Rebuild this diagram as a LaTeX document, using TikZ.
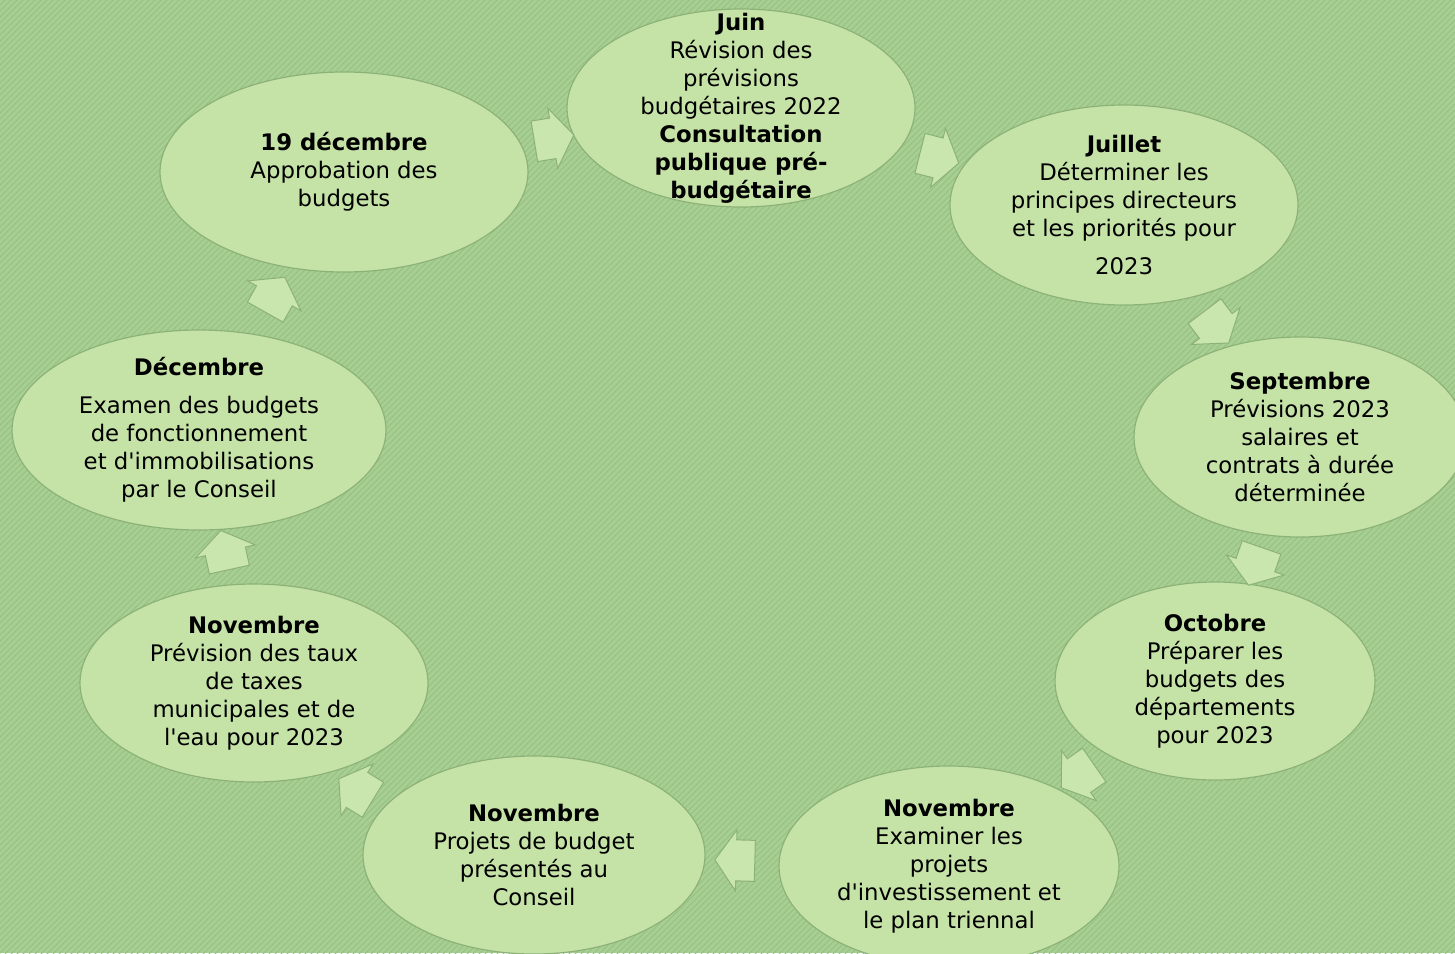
\documentclass[tikz,border=0pt]{standalone}
\usepackage{fontspec}
\setmainfont{DejaVu Sans}
\usetikzlibrary{shapes.geometric,shapes.arrows,patterns}
\definecolor{bgG}{HTML}{A8CF93}
\definecolor{bgD}{HTML}{96C081}
\definecolor{ellG}{HTML}{C6E3A7}
\definecolor{ellRim}{HTML}{F6FDEE}
\definecolor{ellLine}{HTML}{8DB279}
\definecolor{arrG}{HTML}{C8E6AD}
\pgfdeclareradialshading{bubbleshade}{\pgfpoint{0bp}{0bp}}{color(0bp)=(ellG); color(42bp)=(ellG); color(48bp)=(ellRim); color(50bp)=(ellG!70!ellLine); color(100bp)=(ellG!70!ellLine)}

\begin{document}
\begin{tikzpicture}[x=0.5pt,y=-0.5pt]
  \tikzset{bubble/.style={ellipse, inner sep=0pt, shading=bubbleshade, draw=ellLine, line width=0.6pt},
    txt/.style={align=center, font=\fontsize{11.4}{14}\selectfont},
    blockarr/.style={single arrow, draw=ellLine, fill=arrG, line width=0.5pt, inner xsep=0pt, inner ysep=10pt,
      minimum height=20pt, single arrow head extend=5pt, single arrow tip angle=110, single arrow head indent=0pt,
      sloped, allow upside down}}
  \useasboundingbox (0,0) rectangle (1455,953);
  \clip (0,0) rectangle (1455,953);
  \fill[bgG] (0,0) rectangle (1455,953);
  \fill[pattern=north east lines, pattern color=bgD] (0,0) rectangle (1455,953);

  \node[bubble, minimum width=174pt, minimum height=99pt] (juin) at (741,108) {};
  \node[bubble, minimum width=174pt, minimum height=100pt] (juillet) at (1124,205) {};
  \node[bubble, minimum width=166pt, minimum height=100pt] (sept) at (1300,437) {};
  \node[bubble, minimum width=160pt, minimum height=99pt] (oct) at (1215,681) {};
  \node[bubble, minimum width=170pt, minimum height=100pt] (novr) at (949,866) {};
  \node[bubble, minimum width=171pt, minimum height=99pt] (novm) at (534,855) {};
  \node[bubble, minimum width=174pt, minimum height=99pt] (novl) at (254,683) {};
  \node[bubble, minimum width=187pt, minimum height=100pt] (dec) at (199,430) {};
  \node[bubble, minimum width=184pt, minimum height=100pt] (dec19) at (344,172) {};

  \node[txt] (juintxt) at (juin) {\textbf{Juin}\\Révision des\\prévisions\\budgétaires 2022\\\textbf{Consultation}\\\textbf{publique pré-}\\\textbf{budgétaire}};
  \node[txt] (juillettxt) at (juillet) {\textbf{Juillet}\\Déterminer les\\principes directeurs\\et les priorités pour\\[5pt]2023};
  \node[txt] (septtxt) at (sept) {\textbf{Septembre}\\Prévisions 2023\\salaires et\\contrats à durée\\déterminée};
  \node[txt] (octtxt) at (oct) {\textbf{Octobre}\\Préparer les\\budgets des\\départements\\pour 2023};
  \node[txt] (novrtxt) at (novr) {\textbf{Novembre}\\Examiner les\\projets\\d\textquotesingle investissement et\\le plan triennal};
  \node[txt] (novmtxt) at (novm) {\textbf{Novembre}\\Projets de budget\\présentés au\\Conseil};
  \node[txt] (novltxt) at (novl) {\textbf{Novembre}\\Prévision des taux\\de taxes\\municipales et de\\l\textquotesingle eau pour 2023};
  \node[txt] (dectxt) at (dec) {\textbf{Décembre}\\[5pt]Examen des budgets\\de fonctionnement\\et d\textquotesingle immobilisations\\par le Conseil};
  \node[txt] (dec19txt) at (dec19) {\textbf{19 décembre}\\Approbation des\\budgets};

  \path (dec19) -- node[blockarr] (a1) {} (juin);
  \path (juin) -- node[blockarr] (a2) {} (juillet);
  \path (juillet) -- node[blockarr] (a3) {} (sept);
  \path (sept) -- node[blockarr] (a4) {} (oct);
  \path (oct) -- node[blockarr] (a5) {} (novr);
  \path (novr) -- node[blockarr] (a6) {} (novm);
  \path ([xshift=-16pt,yshift=-12pt]novm.center) -- node[blockarr] (a7) {} ([xshift=-16pt,yshift=-12pt]novl.center);
  \path (novl) -- node[blockarr] (a8) {} (dec);
  \path (dec) -- node[blockarr] (a9) {} (dec19);
\end{tikzpicture}
\end{document}
